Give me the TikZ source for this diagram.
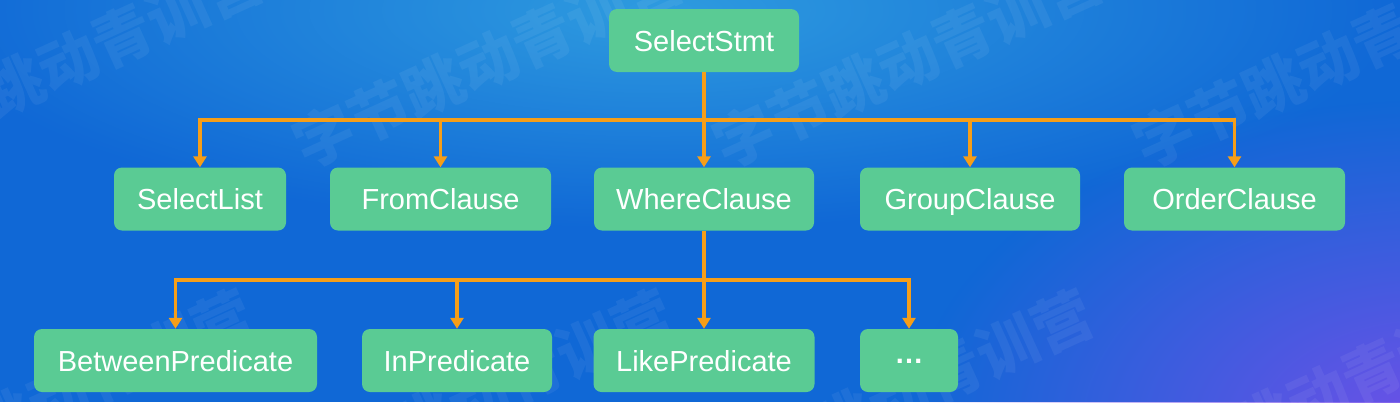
\documentclass[tikz,border=0pt]{standalone}
\usepackage{fontspec}
\setmainfont{Liberation Sans}
\newfontfamily\cjk{Noto Sans CJK SC}
\usetikzlibrary{arrows.meta,fadings}
\pgfdeclareradialshading{softglowshade}{\pgfpointorigin}{color(0bp)=(pgftransparent!0); color(25bp)=(pgftransparent!100); color(50bp)=(pgftransparent!100)}
\pgfdeclarefading{softglow}{\pgfuseshading{softglowshade}}
\definecolor{bgbase}{RGB}{16,104,214}
\definecolor{bglight}{RGB}{48,158,224}
\definecolor{bgpurple}{RGB}{112,80,232}
\definecolor{boxgreen}{RGB}{90,203,148}
\definecolor{linkorange}{RGB}{246,158,24}
\tikzset{
  box/.style={fill=boxgreen, rounded corners=8pt, inner sep=0pt, minimum height=63pt,
    text=white, font=\fontsize{29}{34}\selectfont, text height=21pt, text depth=0pt},
  conn/.style={draw=linkorange, line width=3.5pt},
  arr/.style={conn, -{Triangle[width=13pt,length=11pt]}},
  wmark/.style={text=white, opacity=0.06, rotate=24.5, inner sep=0pt,
    font=\cjk\bfseries\fontsize{60}{60}\selectfont}
}
\begin{document}
\begin{tikzpicture}[x=1pt,y=-1pt]
\useasboundingbox (0,0) rectangle (1400,402);
% background
\fill[bgbase] (0,0) rectangle (1400,402);
\begin{scope}
\clip (0,0) rectangle (1400,402);
\fill[bglight, path fading=softglow, opacity=0.95] (660,10) ellipse [x radius=740, y radius=220];
\fill[bgpurple, path fading=softglow] (1430,430) ellipse [x radius=520, y radius=330];
% watermarks
\foreach \x in {-118,302,722,1142} {
  \node[wmark] (wa\x) at (\x+186,145-84) {字节跳动青训营};
}
\foreach \x in {-128,292,712,1132} {
  \node[wmark] (wb\x) at (\x+186,480-84) {字节跳动青训营};
}
\end{scope}
% nodes
\node[box, minimum width=190pt] (stmt) at (704,40.5) {SelectStmt};
\node[box, minimum width=172pt] (sl) at (200,199) {SelectList};
\node[box, minimum width=221pt] (fc) at (440.5,199) {FromClause};
\node[box, minimum width=220pt] (wc) at (704,199) {WhereClause};
\node[box, minimum width=220pt] (gc) at (970,199) {GroupClause};
\node[box, minimum width=221pt] (oc) at (1234.5,199) {OrderClause};
\node[box, minimum width=283pt] (bp) at (175.5,360.5) {BetweenPredicate};
\node[box, minimum width=190pt] (ip) at (457,360.5) {InPredicate};
\node[box, minimum width=221pt] (lp) at (704,360.5) {LikePredicate};
\node[box, minimum width=98pt] (dots) at (909,360.5) {\raisebox{8pt}{\bfseries …}};
% connectors
\coordinate (b1) at (704,120);
\coordinate (b2) at (704,280);
\draw[conn] (stmt.south) -- (b1);
\draw[arr] (b1) -| (sl.north);
\draw[arr] (b1) -| (oc.north);
\draw[arr] (b1 -| fc.north) -- (fc.north);
\draw[arr] (b1 -| gc.north) -- (gc.north);
\draw[arr] (b1) -- (wc.north);
\draw[conn] (wc.south) -- (b2);
\draw[arr] (b2) -| (bp.north);
\draw[arr] (b2) -| (dots.north);
\draw[arr] (b2 -| ip.north) -- (ip.north);
\draw[arr] (b2) -- (lp.north);
\end{tikzpicture}
\end{document}
